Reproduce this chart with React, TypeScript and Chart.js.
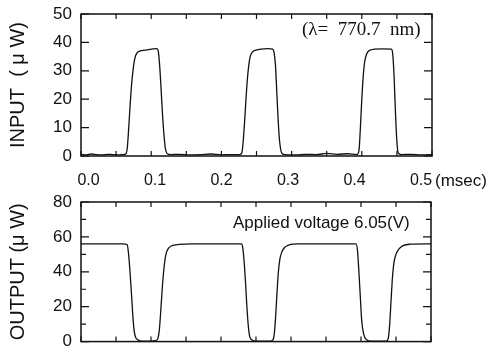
import React, { useEffect, useRef } from "react";
import { Chart, registerables } from "chart.js";

Chart.register(...registerables);

// ---------- data ----------
const inputTime = [
  0.0, 0.008, 0.015, 0.022, 0.03, 0.038, 0.045, 0.052, 0.06, 0.064, 0.066, 0.068, 0.07, 0.072, 0.074, 0.076,
  0.078, 0.081, 0.086, 0.095, 0.103, 0.108, 0.11, 0.112, 0.114, 0.116, 0.118, 0.12, 0.123, 0.128, 0.14, 0.155,
  0.17, 0.185, 0.2, 0.215, 0.226, 0.229, 0.231, 0.233, 0.235, 0.237, 0.239, 0.241, 0.244, 0.248, 0.256, 0.266,
  0.273, 0.275, 0.277, 0.279, 0.281, 0.283, 0.286, 0.29, 0.305, 0.32, 0.335, 0.35, 0.365, 0.38, 0.393, 0.396,
  0.398, 0.4, 0.402, 0.404, 0.407, 0.411, 0.418, 0.43, 0.442, 0.444, 0.446, 0.448, 0.45, 0.452, 0.456, 0.47,
  0.485, 0.5,
];
const inputPower = [
  0.6, 0.4, 0.7, 0.5, 0.4, 0.6, 0.5, 0.4, 0.5, 0.8, 3, 10, 18, 25, 30, 33.5,
  35.5, 36.6, 37.1, 37.4, 37.7, 37.8, 37, 32, 24, 15, 8, 3, 0.8, 0.5, 0.6, 0.4,
  0.5, 0.7, 0.4, 0.5, 0.5, 1, 5, 12, 20, 27, 32, 35, 36.6, 37.2, 37.6, 37.8,
  37.6, 36.5, 32, 22, 12, 5, 1, 0.5, 0.4, 0.6, 0.5, 0.9, 0.6, 0.8, 0.5, 2,
  10, 20, 28, 33, 36, 37.2, 37.6, 37.7, 37.6, 36, 28, 15, 5, 1, 0.5, 0.6,
  0.4, 0.5,
];

const outputTime = [
  0.0, 0.06, 0.066, 0.068, 0.07, 0.072, 0.074, 0.076, 0.078, 0.081, 0.086, 0.1, 0.107, 0.11, 0.112, 0.114,
  0.116, 0.118, 0.12, 0.122, 0.125, 0.13, 0.14, 0.16, 0.229, 0.231, 0.233, 0.235, 0.237, 0.239, 0.241, 0.244,
  0.25, 0.27, 0.274, 0.276, 0.278, 0.28, 0.282, 0.284, 0.287, 0.291, 0.298, 0.31, 0.393, 0.395, 0.397, 0.399,
  0.401, 0.404, 0.408, 0.415, 0.436, 0.439, 0.441, 0.443, 0.445, 0.447, 0.45, 0.454, 0.46, 0.47, 0.5,
];
const outputPower = [
  56, 56, 55.5, 50, 40, 28, 15, 6, 2.5, 1, 0.3, 0.2, 0.5, 2, 7, 18,
  30, 40, 47, 51, 53.5, 55, 55.7, 56, 56, 54, 46, 34, 20, 9, 3, 1,
  0.2, 0.2, 0.8, 4, 14, 28, 40, 47, 51.5, 54, 55.5, 56, 56, 52, 40, 26,
  12, 4, 1, 0.2, 0.3, 2, 10, 24, 37, 45, 50, 53, 55, 55.8, 56,
];

const xTickValues = [0, 0.05, 0.1, 0.15, 0.2, 0.25, 0.3, 0.35, 0.4, 0.45, 0.5];
const xLabelValues = [0, 0.1, 0.2, 0.3, 0.4, 0.5];
const inputYTicks = [0, 10, 20, 30, 40, 50];
const outputYTicks = [0, 10, 20, 30, 40, 50, 60, 70, 80];

const INK = "#111";
const SANS = "'Liberation Sans', Arial, sans-serif";

const frameTicks = {
  id: "frameTicks",
  afterDraw(chart: any, _args: any, opts: any) {
    const { ctx, chartArea: a, scales } = chart;
    const xs = scales.x;
    const ys = scales.y;
    ctx.save();
    ctx.strokeStyle = INK;
    ctx.lineWidth = 1.5;
    ctx.strokeRect(a.left, a.top, a.right - a.left, a.bottom - a.top);
    ctx.lineWidth = 1.2;
    ctx.beginPath();
    for (const v of opts.xTicks) {
      const px = xs.getPixelForValue(v);
      ctx.moveTo(px, a.top);
      ctx.lineTo(px, a.top + 5);
      ctx.moveTo(px, a.bottom);
      ctx.lineTo(px, a.bottom - 5);
    }
    for (const v of opts.yTicks) {
      const py = ys.getPixelForValue(v);
      const len = v % opts.yMajor === 0 ? 8 : 5;
      ctx.moveTo(a.left, py);
      ctx.lineTo(a.left + len, py);
      ctx.moveTo(a.right, py);
      ctx.lineTo(a.right - len, py);
    }
    ctx.stroke();
    ctx.fillStyle = INK;
    for (const t of opts.texts || []) {
      ctx.font = t.font;
      ctx.textAlign = t.align || "left";
      ctx.textBaseline = "middle";
      ctx.fillText(t.text, t.x, t.y);
    }
    ctx.restore();
  },
};

function makeConfig(
  times: number[],
  values: number[],
  yMax: number,
  yStep: number,
  yTicks: number[],
  yMajor: number,
  title: string,
  showX: boolean,
  padding: any,
  texts: any[]
): any {
  const scales: any = {
    x: {
      type: "linear",
      min: 0,
      max: 0.5,
      grid: { display: false, drawTicks: false },
      border: { display: false },
      ticks: { display: false },
      afterFit: (s: any) => {
        s.height = 0;
      },
    },
    y: {
      min: 0,
      max: yMax,
      grid: { display: false, drawTicks: false },
      border: { display: false },
      ticks: {
        stepSize: yStep,
        padding: 9,
        color: INK,
        font: { family: SANS, size: 17, lineHeight: 0.05 },
      },
      title: {
        display: true,
        text: title,
        color: INK,
        padding: { top: 6, bottom: 0 },
        font: { family: SANS, size: 20 },
      },
      afterFit: (s: any) => {
        s.width = 81;
      },
    },
  };
  if (showX) {
    scales.xl = {
      type: "linear",
      axis: "x",
      position: "bottom",
      min: -0.01128,
      max: 0.5165,
      grid: { display: false, drawTicks: false },
      border: { display: false },
      afterBuildTicks: (s: any) => {
        s.ticks = xLabelValues.map((v) => ({ value: v }));
      },
      ticks: {
        padding: 15,
        color: INK,
        autoSkip: false,
        maxRotation: 0,
        font: { family: SANS, size: 16 },
        callback: (v: number) => v.toFixed(1),
      },
      afterFit: (s: any) => {
        s.height = 36;
      },
    };
  }
  return {
    type: "line",
    data: {
      datasets: [
        {
          data: times.map((t, i) => ({ x: t, y: values[i] })),
          borderColor: INK,
          borderWidth: 1.3,
          pointRadius: 0,
          cubicInterpolationMode: "monotone",
          fill: false,
          xAxisID: "x",
          yAxisID: "y",
        },
      ],
    },
    options: {
      animation: false,
      responsive: false,
      maintainAspectRatio: false,
      layout: { padding },
      plugins: {
        legend: { display: false },
        tooltip: { enabled: false },
        frameTicks: { xTicks: xTickValues, yTicks, yMajor, texts },
      },
      scales,
    },
    plugins: [frameTicks],
  };
}

export default function App() {
  const topRef = useRef<HTMLCanvasElement>(null);
  const botRef = useRef<HTMLCanvasElement>(null);

  useEffect(() => {
    const top = new Chart(
      topRef.current as HTMLCanvasElement,
      makeConfig(
        inputTime,
        inputPower,
        50,
        10,
        inputYTicks,
        10,
        "INPUT  ( μ W)",
        true,
        { top: 14, right: 62, left: 0, bottom: 0 },
        [
          { text: "(λ=  770.7  nm)", x: 302, y: 30, font: "19px 'Liberation Serif', 'Times New Roman', serif" },
          { text: "(msec)", x: 435, y: 181, font: "17px " + SANS },
        ]
      )
    );
    const bot = new Chart(
      botRef.current as HTMLCanvasElement,
      makeConfig(
        outputTime,
        outputPower,
        80,
        20,
        outputYTicks,
        20,
        "OUTPUT (μ W)",
        false,
        { top: 10, right: 63, left: 0, bottom: 4 },
        [{ text: "Applied voltage 6.05(V)", x: 233, y: 223 - 192, font: "17px " + SANS }]
      )
    );
    return () => {
      top.destroy();
      bot.destroy();
    };
  }, []);

  return (
    <div style={{ position: "absolute", left: 0, top: 0, width: 494, height: 351, background: "#fff" }}>
      <canvas ref={topRef} width={494} height={192} style={{ position: "absolute", left: 0, top: 0, width: 494, height: 192 }} />
      <canvas ref={botRef} width={494} height={159} style={{ position: "absolute", left: 0, top: 192, width: 494, height: 159 }} />
    </div>
  );
}
